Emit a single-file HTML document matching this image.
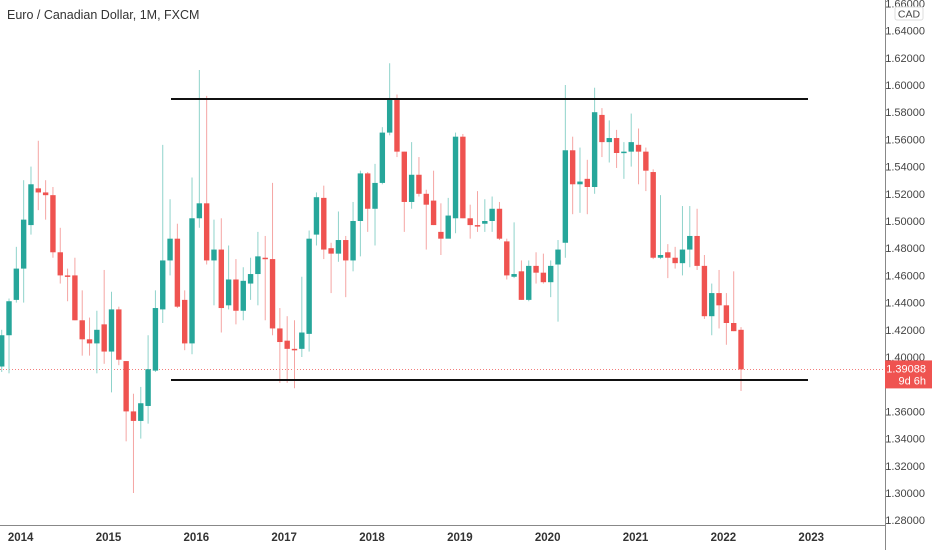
<!DOCTYPE html>
<html><head><meta charset="utf-8">
<style>
html,body{margin:0;padding:0;background:#fff;}
svg{display:block;font-family:"Liberation Sans",sans-serif;}
</style></head>
<body>
<svg id="chart" width="932" height="550" viewBox="0 0 932 550" xmlns="http://www.w3.org/2000/svg">
<rect x="0" y="0" width="932" height="550" fill="#fff"/>
<text x="7" y="19" font-size="12.5" fill="#333">Euro / Canadian Dollar, 1M, FXCM</text>
<g id="candles"></g>
<g id="yaxis"></g>
<g id="xaxis"></g>
<g id="overlay"></g>
</svg>
<script>
const opens  = [1.393,1.416,1.442,1.465,1.497,1.524,1.521,1.519,1.477,1.460,1.460,1.427,1.413,1.410,1.424,1.404,1.435,1.397,1.360,1.353,1.364,1.390,1.435,1.471,1.487,1.442,1.410,1.502,1.513,1.471,1.479,1.438,1.457,1.434,1.454,1.461,1.473,1.472,1.421,1.412,1.406,1.406,1.417,1.490,1.517,1.480,1.476,1.486,1.471,1.500,1.535,1.509,1.528,1.565,1.590,1.551,1.514,1.534,1.520,1.515,1.492,1.487,1.502,1.562,1.502,1.497,1.498,1.500,1.509,1.485,1.459,1.463,1.442,1.467,1.462,1.455,1.468,1.484,1.552,1.527,1.531,1.525,1.578,1.558,1.561,1.550,1.551,1.556,1.551,1.536,1.473,1.477,1.473,1.469,1.479,1.489,1.467,1.430,1.447,1.438,1.425,1.420];
const highs  = [1.420,1.443,1.481,1.530,1.540,1.559,1.530,1.525,1.495,1.465,1.473,1.449,1.429,1.434,1.464,1.448,1.437,1.397,1.373,1.378,1.416,1.449,1.556,1.516,1.498,1.449,1.532,1.611,1.592,1.501,1.502,1.482,1.472,1.466,1.473,1.492,1.489,1.528,1.436,1.430,1.427,1.459,1.493,1.521,1.526,1.484,1.507,1.489,1.514,1.537,1.536,1.542,1.569,1.616,1.593,1.551,1.558,1.547,1.523,1.537,1.513,1.517,1.565,1.564,1.512,1.522,1.516,1.518,1.514,1.487,1.499,1.471,1.471,1.477,1.476,1.471,1.486,1.600,1.562,1.554,1.545,1.598,1.583,1.574,1.567,1.558,1.579,1.568,1.554,1.538,1.519,1.483,1.481,1.511,1.511,1.509,1.475,1.454,1.464,1.447,1.463,1.422];
const lows   = [1.389,1.388,1.440,1.440,1.490,1.508,1.501,1.473,1.454,1.441,1.427,1.401,1.401,1.388,1.395,1.374,1.394,1.338,1.300,1.340,1.351,1.389,1.425,1.460,1.436,1.405,1.402,1.495,1.468,1.438,1.418,1.435,1.424,1.427,1.442,1.438,1.427,1.416,1.381,1.381,1.377,1.400,1.404,1.482,1.472,1.447,1.470,1.444,1.463,1.474,1.492,1.482,1.527,1.563,1.547,1.492,1.509,1.518,1.479,1.497,1.475,1.491,1.491,1.502,1.487,1.492,1.492,1.492,1.486,1.457,1.458,1.442,1.441,1.454,1.454,1.444,1.426,1.473,1.505,1.506,1.505,1.520,1.547,1.543,1.539,1.531,1.540,1.527,1.522,1.472,1.472,1.458,1.465,1.460,1.466,1.464,1.428,1.416,1.421,1.409,1.419,1.375];
const closes = [1.416,1.441,1.465,1.501,1.527,1.521,1.519,1.477,1.460,1.459,1.427,1.413,1.410,1.420,1.404,1.435,1.398,1.360,1.353,1.366,1.391,1.436,1.471,1.487,1.437,1.410,1.502,1.513,1.471,1.479,1.436,1.457,1.434,1.456,1.461,1.474,1.472,1.421,1.411,1.406,1.405,1.418,1.487,1.5175,1.479,1.476,1.486,1.471,1.500,1.535,1.509,1.528,1.565,1.590,1.551,1.514,1.534,1.520,1.512,1.497,1.487,1.504,1.562,1.502,1.497,1.496,1.500,1.509,1.487,1.460,1.461,1.442,1.467,1.462,1.455,1.467,1.479,1.552,1.527,1.529,1.525,1.580,1.558,1.561,1.550,1.551,1.558,1.551,1.537,1.473,1.475,1.473,1.469,1.479,1.489,1.467,1.430,1.447,1.438,1.425,1.419,1.39088];
const priceTicks = [1.66,1.64,1.62,1.60,1.58,1.56,1.54,1.52,1.50,1.48,1.46,1.44,1.42,1.40,1.38,1.36,1.34,1.32,1.30,1.28];
const yearLabels = ["2014","2015","2016","2017","2018","2019","2020","2021","2022","2023"];
const levels = [1.5897, 1.3831];
const lastPrice = 1.39088;
const countdown = "9d 6h";

const NS="http://www.w3.org/2000/svg";
const y = p => 85 + (1.60 - p) * 1360;
const x = i => 1.7 + i * 7.32;
function mk(tag, attrs, parent){const e=document.createElementNS(NS,tag);for(const k in attrs)e.setAttribute(k,attrs[k]);parent.appendChild(e);return e;}
const cg=document.getElementById('candles'), yg=document.getElementById('yaxis'), xg=document.getElementById('xaxis'), og=document.getElementById('overlay');

// last price dotted line
const lp = mk('line',{x1:0,x2:885,y1:y(lastPrice),y2:y(lastPrice),stroke:'#ef5350','stroke-width':0.8,'stroke-dasharray':'1 2'},cg);



for(let i=0;i<opens.length;i++){
  const up = closes[i] >= opens[i];
  const col = up ? '#26a69a' : '#ef5350';
  const wcol = up ? '#8fd3cb' : '#f5a5a3';
  const cx = x(i);
  const w = mk('line',{x1:cx,x2:cx,y1:y(highs[i]),y2:y(lows[i]),stroke:wcol,'stroke-width':1},cg);
  
  
  const top=y(Math.max(opens[i],closes[i])), bot=y(Math.min(opens[i],closes[i]));
  const b = mk('rect',{x:cx-2.7,y:top,width:5.4,height:Math.max(1.5,bot-top),fill:col},cg);
  
  
}

levels.forEach(v=>{
  const l = mk('line',{x1:171,x2:808,y1:y(v),y2:y(v),stroke:'#111','stroke-width':2},og);
  
  
});

// axes
const ax = mk('line',{x1:885.5,x2:885.5,y1:0,y2:550,stroke:'#888','stroke-width':1},yg);


const bx = mk('line',{x1:0,x2:885,y1:525.5,y2:525.5,stroke:'#888','stroke-width':1},xg);



priceTicks.forEach(p=>{
  const t = mk('text',{x:925,y:y(p)+4,'font-size':11,fill:'#444','text-anchor':'end'},yg);
  t.textContent = p.toFixed(5);
  
  
});
const cad = mk('rect',{x:895,y:7,width:28,height:13,rx:2,fill:'#fff',stroke:'#ddd'},yg);


const cadt = mk('text',{x:909,y:17.5,'font-size':10.5,fill:'#444','text-anchor':'middle'},yg);
cadt.textContent='CAD';



yearLabels.forEach((lab,k)=>{
  const t = mk('text',{x:x(3+12*k)-3,y:541,'font-size':11.5,'font-weight':'bold',fill:'#333','text-anchor':'middle'},xg);
  t.textContent = lab;
  
  
});

const tag = mk('rect',{x:885,y:y(lastPrice)-9,width:47,height:28,fill:'#ef5350'},yg);


const tt = mk('text',{x:926,y:y(lastPrice)+3,'font-size':11,fill:'#fff','text-anchor':'end'},yg);
tt.textContent = lastPrice.toFixed(5);


const ct = mk('text',{x:926,y:y(lastPrice)+15,'font-size':11,fill:'#fff','text-anchor':'end'},yg);
ct.textContent = countdown;


</script>
</body></html>
